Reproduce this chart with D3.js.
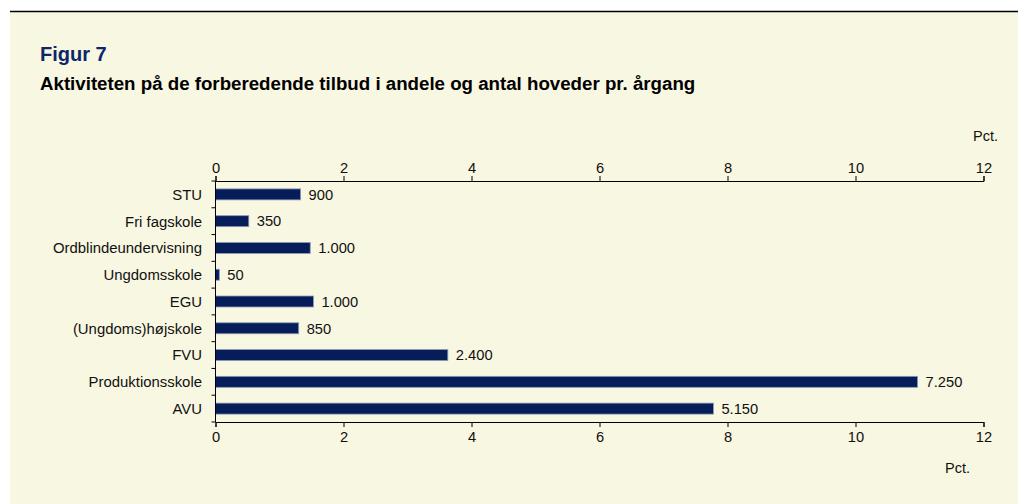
<!DOCTYPE html>
<html>
<head>
<meta charset="utf-8">
<script src="https://cdn.jsdelivr.net/npm/d3@7"></script>
<style>
  body { margin: 0; background: #fff; }
  svg { display: block; font-family: "Liberation Sans", Arial, sans-serif; }
</style>
</head>
<body>
<svg id="chart" width="1018" height="504"></svg>
<script>
// categories top to bottom
var categories = ["STU", "Fri fagskole", "Ordblindeundervisning", "Ungdomsskole", "EGU",
  "(Ungdoms)højskole", "FVU", "Produktionsskole", "AVU"];
// share of a year group, pct
var pctValues = [1.33, 0.52, 1.48, 0.06, 1.53, 1.30, 3.63, 10.97, 7.78];
// number of heads, shown as labels
var headLabels = ["900", "350", "1.000", "50", "1.000", "850", "2.400", "7.250", "5.150"];
var xTicks = [0, 2, 4, 6, 8, 10, 12];

var svg = d3.select("#chart");

// background panel + top rule
svg.append("rect").attr("x", 10).attr("y", 12).attr("width", 1008).attr("height", 492)
  .attr("fill", "#f8f7e1");
svg.append("line").attr("x1", 10).attr("x2", 1018).attr("y1", 11.5).attr("y2", 11.5)
  .attr("stroke", "#000").attr("stroke-width", 1.5);

svg.append("text").attr("x", 40).attr("y", 61)
  .attr("font-size", 20).attr("font-weight", "bold").attr("fill", "#0c2668")
  .text("Figur 7");
svg.append("text").attr("x", 40).attr("y", 89.5)
  .attr("font-size", 18.7).attr("font-weight", "bold").attr("fill", "#000")
  .text("Aktiviteten på de forberedende tilbud i andele og antal hoveder pr. årgang");

var plotL = 215.5, plotR = 983.5, plotT = 181, plotB = 422;

var x = d3.scaleLinear().domain([0, 12]).range([plotL, plotR]);
var y = d3.scaleBand().domain(categories).range([plotT, plotB]).paddingInner(0.59).paddingOuter(0.295);
var yb = d3.scaleBand().domain(categories).range([plotT, plotB]);

// bars
svg.selectAll("rect.bar").data(categories).enter().append("rect")
  .attr("class", "bar")
  .attr("x", x(0))
  .attr("y", function(d) { return y(d); })
  .attr("width", function(d, i) { return x(pctValues[i]) - x(0); })
  .attr("height", y.bandwidth())
  .attr("fill", "#061d59")
  .attr("stroke", "#8d9ab5")
  .attr("stroke-width", 0.8);

// value labels
svg.selectAll("text.val").data(categories).enter().append("text")
  .attr("class", "val")
  .attr("x", function(d, i) { return x(pctValues[i]) + 8; })
  .attr("y", function(d) { return y(d) + y.bandwidth() / 2; })
  .attr("dy", "0.36em")
  .attr("font-size", 14.7)
  .attr("fill", "#111")
  .text(function(d, i) { return headLabels[i]; });

// axes
var topAxis = d3.axisTop(x).tickValues(xTicks).tickSize(5).tickSizeOuter(5).tickFormat(d3.format("d"));
var bottomAxis = d3.axisBottom(x).tickValues(xTicks).tickSize(5).tickSizeOuter(5).tickFormat(d3.format("d"));

function styleAxis(g) {
  g.selectAll("path, line").attr("stroke", "#000").attr("stroke-width", 1);
  g.selectAll("text").attr("font-size", 14.7).attr("fill", "#111")
    .attr("font-family", "Liberation Sans, Arial, sans-serif");
}

svg.append("g").attr("transform", "translate(0," + plotT + ")").call(topAxis)
  .call(styleAxis).selectAll("text").attr("y", -8);
svg.append("g").attr("transform", "translate(0," + plotB + ")").call(bottomAxis)
  .call(styleAxis).selectAll("text").attr("y", 10);

// category axis: line plus ticks at band edges
var catAxis = svg.append("g");
catAxis.append("line").attr("x1", plotL).attr("x2", plotL).attr("y1", plotT).attr("y2", plotB)
  .attr("stroke", "#000");
var edges = categories.map(function(d) { return yb(d); }).concat([plotB]);
catAxis.selectAll("line.tk").data(edges).enter().append("line")
  .attr("class", "tk")
  .attr("x1", plotL - 4).attr("x2", plotL)
  .attr("y1", function(d) { return d; }).attr("y2", function(d) { return d; })
  .attr("stroke", "#000");
catAxis.selectAll("text").data(categories).enter().append("text")
  .attr("x", 202)
  .attr("y", function(d) { return yb(d) + yb.bandwidth() / 2; })
  .attr("dy", "0.36em")
  .attr("text-anchor", "end")
  .attr("font-size", 14.9)
  .attr("fill", "#111")
  .text(function(d) { return d; });

// unit labels
svg.append("text").attr("x", 998).attr("y", 141).attr("text-anchor", "end")
  .attr("font-size", 14.5).attr("fill", "#111").text("Pct.");
svg.append("text").attr("x", 970).attr("y", 473).attr("text-anchor", "end")
  .attr("font-size", 14.5).attr("fill", "#111").text("Pct.");
</script>
</body>
</html>
